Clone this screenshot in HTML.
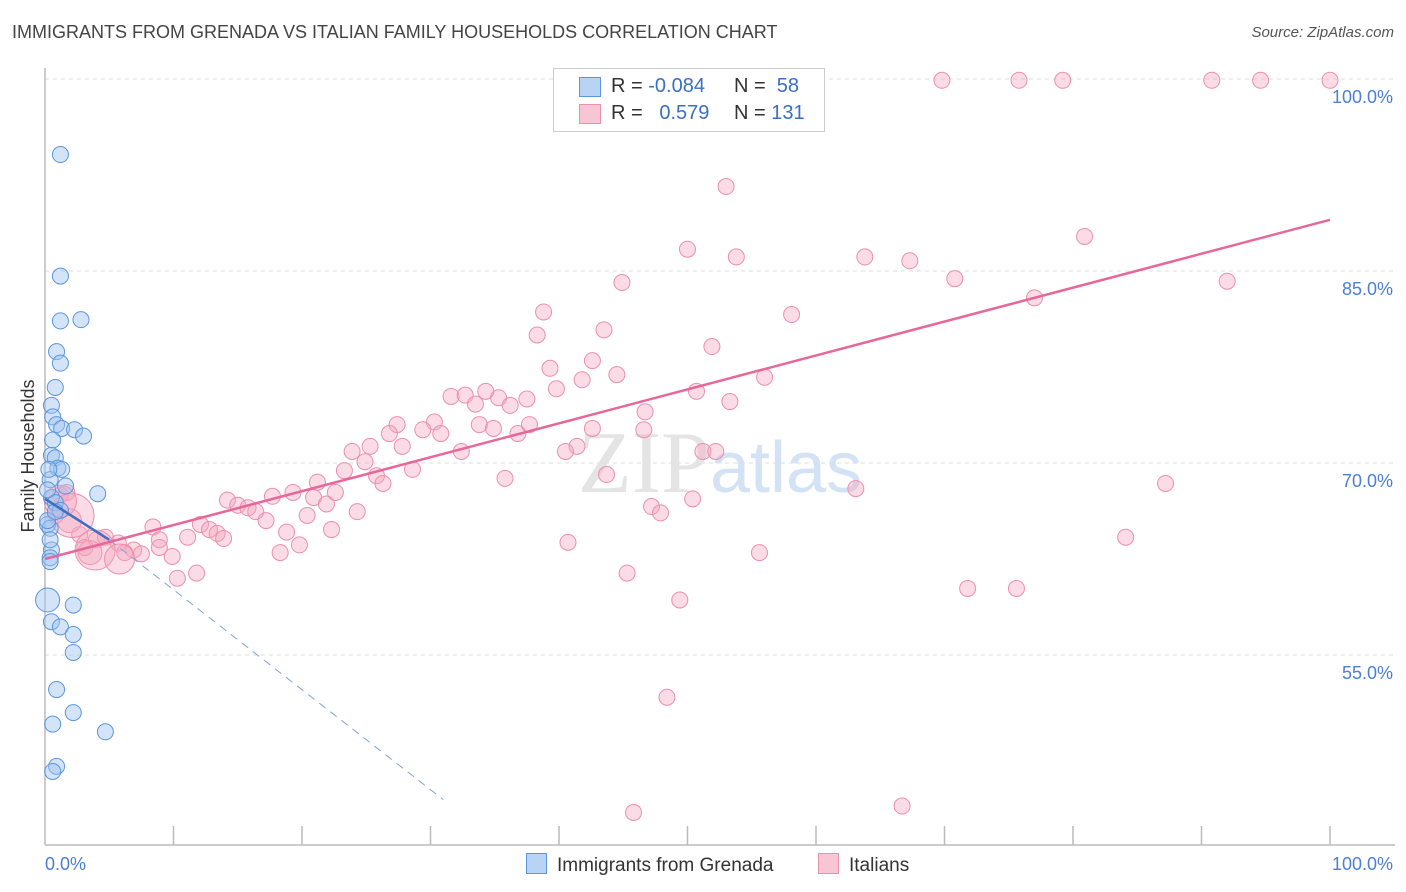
<!DOCTYPE html>
<html><head><meta charset="utf-8"><style>
body{margin:0;background:#fff;font-family:"Liberation Sans",sans-serif;}
#wrap{position:relative;width:1406px;height:892px;overflow:hidden}
.t{position:absolute;white-space:nowrap}
</style></head><body>
<div id="wrap">
<div class="t" style="left:12px;top:22px;font-size:18px;color:#444">IMMIGRANTS FROM GRENADA VS ITALIAN FAMILY HOUSEHOLDS CORRELATION CHART</div>
<div class="t" style="right:12px;top:24px;font-size:15px;color:#555;font-style:italic">Source: ZipAtlas.com</div>
<svg id="svg" width="1406" height="892" style="position:absolute;left:0;top:0"></svg>
</div>
<script>
const yTicks=[100,85,70,55];
const xTickLabels=["0.0%","100.0%"];
const blueX=[1.2,1.2,1.2,2.8,0.9,1.2,0.8,0.5,0.6,0.9,1.3,2.3,3.0,0.6,0.5,0.8,1.0,1.3,0.4,1.6,4.1,0.5,0.8,1.2,0.2,0.4,0.5,0.4,0.4,0.2,2.2,0.5,1.2,2.2,2.2,0.9,0.6,2.2,4.7,0.9,0.6,0.2,0.4,0.8,0.3,0.2];
const blueY=[94.1,84.6,81.1,81.2,78.7,77.8,75.9,74.5,73.6,73.0,72.7,72.6,72.1,71.8,70.6,70.4,69.6,69.5,68.7,68.2,67.6,67.3,66.9,66.3,65.2,64.9,63.2,62.6,62.3,59.3,58.9,57.6,57.2,56.6,55.2,52.3,49.6,50.5,49.0,46.3,45.9,65.5,64.0,66.2,69.5,67.9];
const blueR=[8,8,8,8,8,8,8,8,8,8,8,8,8,8,8,8,8,8,8,8,8,8,8,8,8,8,8,8,8,12,8,8,8,8,8,8,8,8,8,8,8,8,8,8,8,8];
const pinkX=[54.6,58.8,69.8,75.8,79.2,90.8,94.6,100,53.0,50.0,53.8,63.8,67.3,80.9,44.9,70.8,92.0,77.0,38.8,58.1,43.5,38.3,51.9,42.6,39.3,44.5,41.8,56.0,39.8,50.7,31.6,32.7,34.3,33.5,35.3,36.2,37.5,46.7,53.3,27.4,30.3,29.4,30.8,33.8,34.9,36.8,37.7,46.6,26.8,25.3,23.9,27.8,24.9,32.4,41.4,40.5,42.6,51.2,52.2,28.6,25.8,26.3,23.3,21.2,35.8,43.7,63.1,87.2,50.4,14.2,15.0,15.8,16.4,17.7,19.3,20.9,21.9,22.6,24.3,17.2,20.4,22.3,18.8,12.1,12.8,13.4,13.9,11.1,8.4,8.9,9.9,47.2,47.9,19.8,18.3,6.9,7.5,5.7,6.2,4.0,3.5,2.7,1.9,1.2,0.8,40.7,84.1,55.6,45.3,10.3,11.8,49.4,71.8,75.6,48.4,45.8,66.7,1.7,4.7,3.1,8.9,2.1,3.9,5.8,1.2];
const pinkY=[99.9,99.9,99.9,99.9,99.9,99.9,99.9,99.9,91.6,86.7,86.1,86.1,85.8,87.7,84.1,84.4,84.2,82.9,81.8,81.6,80.4,80.0,79.1,78.0,77.4,76.9,76.5,76.7,75.8,75.6,75.2,75.3,75.6,74.6,75.1,74.5,75.0,74.0,74.8,73.0,73.2,72.6,72.3,73.0,72.7,72.3,73.0,72.6,72.3,71.3,70.9,71.3,70.1,70.9,71.3,70.9,72.7,70.9,70.9,69.5,69.0,68.4,69.4,68.5,68.8,69.1,68.0,68.4,67.2,67.1,66.7,66.5,66.2,67.4,67.7,67.3,66.8,67.7,66.2,65.5,65.9,64.8,64.6,65.2,64.8,64.5,64.1,64.2,65.0,64.0,62.7,66.6,66.1,63.6,63.0,63.2,62.9,63.75,63.0,64.0,63.0,64.4,65.5,67.5,65.9,63.8,64.2,63.0,61.4,61.0,61.4,59.3,60.2,60.2,51.7,42.7,43.2,67.7,64.2,63.4,63.4,65.9,63.2,62.5,67.0];
const pinkBig={121:22,122:20,123:15,124:16,102:12,100:12};
const blueTrend=[0,67.2,5,64.0,31,43.7];
const pinkTrend=[0,62.5,100,89.0];
const NS="http://www.w3.org/2000/svg";
const svg=document.getElementById('svg');
const X0=45,X1=1330,Y100=79,PX=12.8;
const sx=v=>X0+(X1-X0)*v/100;
const sy=v=>Y100+(100-v)*PX;
function mk(tag,attrs){const e=document.createElementNS(NS,tag);for(const k in attrs)e.setAttribute(k,attrs[k]);svg.appendChild(e);return e;}
yTicks.forEach(t=>{
 const g=mk('line',{x1:45,x2:1395,y1:sy(t),y2:sy(t),stroke:'#ddd','stroke-dasharray':'4,4'});
 
 
 const tx=mk('text',{x:1393,y:sy(t)+24,'text-anchor':'end','font-size':18,fill:'#4a7fd6','font-family':'Liberation Sans'});
 tx.textContent=t.toFixed(1)+'%';
 
 
});
let ax=mk('line',{x1:45,x2:45,y1:68,y2:845,stroke:'#bbb','stroke-width':1.5});


ax=mk('line',{x1:45,x2:1395,y1:845,y2:845,stroke:'#bbb','stroke-width':1.5});


for(let k=1;k<=10;k++){const l=mk('line',{x1:sx(k*10),x2:sx(k*10),y1:826,y2:845,stroke:'#bbb','stroke-width':1.5});
 
 }
[[45,'start',0],[1393,'end',1]].forEach(([x,a,i])=>{const t=mk('text',{x:x,y:870,'text-anchor':a,'font-size':18,fill:'#4a7fd6','font-family':'Liberation Sans'});t.textContent=xTickLabels[i];
 
 });
const yt=mk('text',{x:34,y:456,transform:'rotate(-90 34 456)','text-anchor':'middle','font-size':18,fill:'#333','font-family':'Liberation Sans'});
yt.textContent='Family Households';


const wm=mk('text',{x:720,y:492,'text-anchor':'middle','font-size':88,fill:'#e4e4e4','font-family':'Liberation Serif'});
wm.innerHTML='ZIP<tspan fill="#d3e2f4" font-family="Liberation Sans" font-size="72">atlas</tspan>';


pinkX.forEach((x,i)=>{const c=mk('circle',{cx:sx(x),cy:sy(pinkY[i]),r:pinkBig[i]||8,fill:'rgba(244,166,189,0.4)',stroke:'#ec8fac','stroke-width':1});
 
 });
blueX.forEach((x,i)=>{const c=mk('circle',{cx:sx(x),cy:sy(blueY[i]),r:blueR[i],fill:'rgba(160,195,240,0.45)',stroke:'#5b95dd','stroke-width':1});
 
 });
let tl=mk('line',{x1:sx(blueTrend[0]),y1:sy(blueTrend[1]),x2:sx(blueTrend[2]),y2:sy(blueTrend[3]),stroke:'#3a6fc4','stroke-width':2.5});


tl=mk('line',{x1:sx(blueTrend[2]),y1:sy(blueTrend[3]),x2:sx(blueTrend[4]),y2:sy(blueTrend[5]),stroke:'#7fa3d8','stroke-width':1,'stroke-dasharray':'8,6'});


tl=mk('line',{x1:sx(pinkTrend[0]),y1:sy(pinkTrend[1]),x2:sx(pinkTrend[2]),y2:sy(pinkTrend[3]),stroke:'#e8679a','stroke-width':2.5});


</script>
<div class="t" style="left:553px;top:68px;width:270px;height:62px;border:1px solid #ccc;background:#fff;font-size:20px">
 <div style="position:absolute;left:25px;top:8px;width:20px;height:18px;background:#b9d3f4;border:1px solid #5b95dd"></div>
 <div style="position:absolute;left:57px;top:6px;color:#333">R = <span style="color:#3a6fc4">-0.084</span></div>
 <div style="position:absolute;left:180px;top:6px;color:#333">N = &nbsp;<span style="color:#3a6fc4">58</span></div>
 <div style="position:absolute;left:25px;top:35px;width:20px;height:18px;background:#f8c5d4;border:1px solid #ec8fac"></div>
 <div style="position:absolute;left:57px;top:33px;color:#333">R = &nbsp;&nbsp;<span style="color:#3a6fc4">0.579</span></div>
 <div style="position:absolute;left:180px;top:33px;color:#333">N = <span style="color:#3a6fc4">131</span></div>
</div>
<div class="t" style="left:526px;top:853px;font-size:19px;color:#333"><span style="display:inline-block;width:19px;height:19px;background:#b9d3f4;border:1px solid #5b95dd;vertical-align:-3px;margin-right:10px"></span>Immigrants from Grenada</div>
<div class="t" style="left:818px;top:853px;font-size:19px;color:#333"><span style="display:inline-block;width:19px;height:19px;background:#f8c5d4;border:1px solid #ec8fac;vertical-align:-3px;margin-right:10px"></span>Italians</div>
</body></html>
